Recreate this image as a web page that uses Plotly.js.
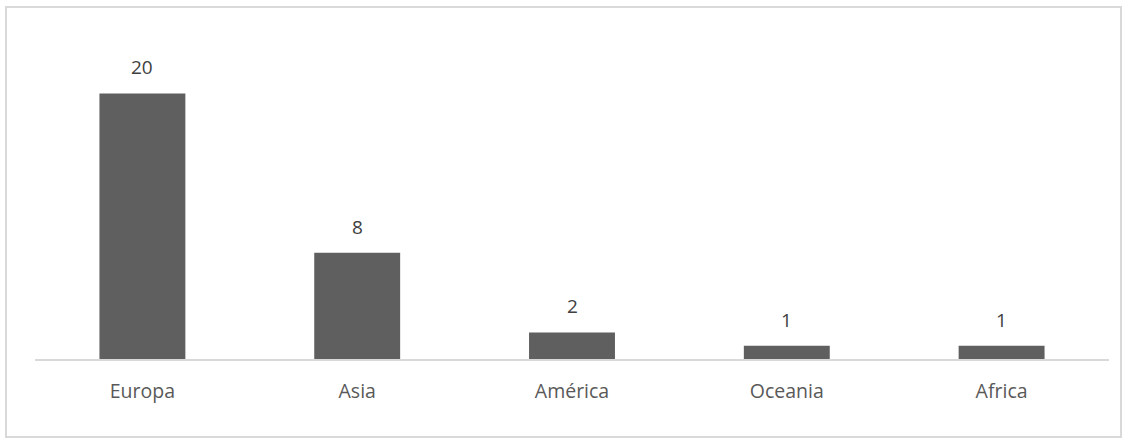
<!DOCTYPE html>
<html><head><meta charset="utf-8">
<script src="https://cdn.plot.ly/plotly-3.0.1.min.js"></script>
<style>
html,body{margin:0;padding:0;background:#fff;}
#frame{position:absolute;left:5px;top:6px;width:1113px;height:428px;border:2px solid #d9d9d9;}
#chart{position:absolute;left:0;top:0;width:1129px;height:443px;}
</style></head>
<body>
<div id="frame"></div>
<div id="chart"></div>
<script>
const categories = ["Europa", "Asia", "América", "Oceania", "Africa"];
const values = [20, 8, 2, 1, 1];

const annotations = categories.map((c, i) => ({
  x: c, y: values[i], xref: 'x', yref: 'y',
  text: String(values[i]), showarrow: false,
  yanchor: 'bottom', yshift: 11,
  font: {family: 'Open Sans, sans-serif', size: 19, color: '#404040'}
}));

Plotly.newPlot('chart', [{
  type: 'bar', x: categories, y: values,
  marker: {color: '#5f5f5f'}, hoverinfo: 'none'
}], {
  width: 1129, height: 443,
  paper_bgcolor: 'rgba(0,0,0,0)', plot_bgcolor: 'rgba(0,0,0,0)',
  margin: {l: 35, r: 19.5, t: 26.5, b: 84},
  bargap: 0.6,
  showlegend: false,
  xaxis: {
    showline: true, linecolor: '#d9d9d9', linewidth: 2,
    ticks: '', ticklabelstandoff: 14,
    tickfont: {family: 'Open Sans, sans-serif', size: 19.5, color: '#595959'},
    fixedrange: true
  },
  yaxis: {
    range: [0, 25], visible: false, showgrid: false, zeroline: false, fixedrange: true
  },
  annotations: annotations
}, {displayModeBar: false, staticPlot: true});
</script>
</body></html>
